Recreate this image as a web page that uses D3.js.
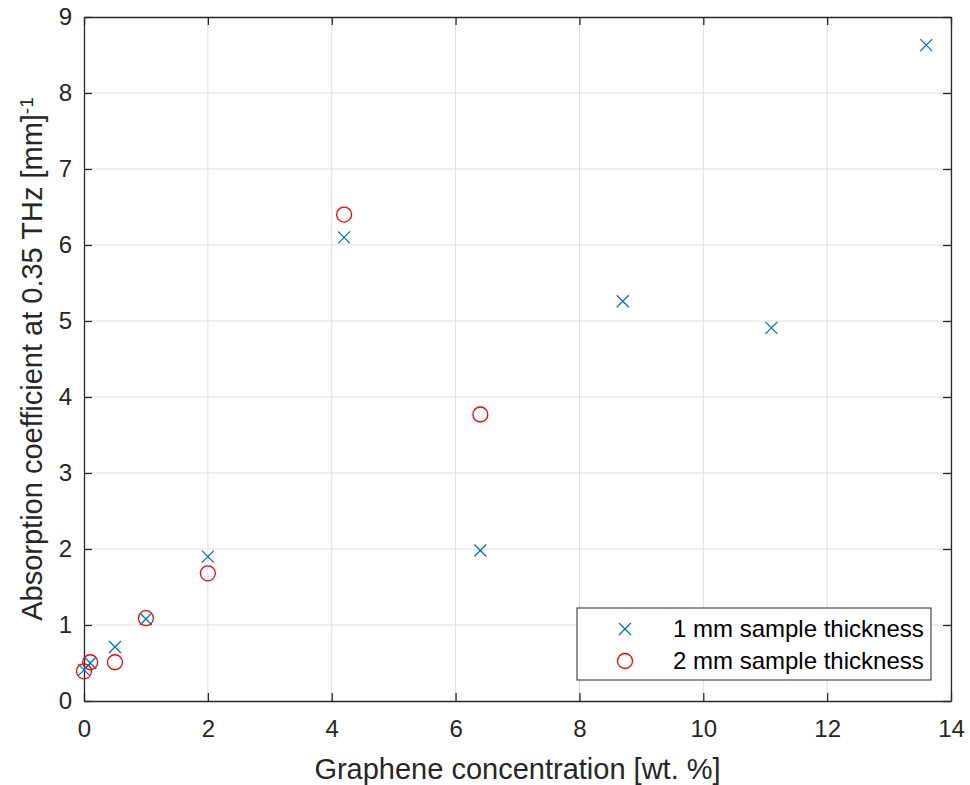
<!DOCTYPE html>
<html>
<head>
<meta charset="utf-8">
<script src="https://cdn.jsdelivr.net/npm/d3@7"></script>
<style>
  body { margin: 0; background: #fff; }
  text { font-family: "Liberation Sans", Arial, sans-serif; }
</style>
</head>
<body>
<script>
// data
var conc1 = [0, 0.1, 0.5, 1, 2, 4.2, 6.4, 8.7, 11.1, 13.6];
var abs1  = [0.41, 0.5, 0.71, 1.08, 1.9, 6.1, 1.98, 5.26, 4.91, 8.63];
var conc2 = [0, 0.1, 0.5, 1, 2, 4.2, 6.4];
var abs2  = [0.39, 0.51, 0.51, 1.09, 1.68, 6.4, 3.77];
var xTicks = [0, 2, 4, 6, 8, 10, 12, 14];
var yTicks = [0, 1, 2, 3, 4, 5, 6, 7, 8, 9];
var legendLabels = ["1 mm sample thickness", "2 mm sample thickness"];

var width = 970, height = 785;
var plotLeft = 84, plotRight = 951, plotTop = 17, plotBottom = 701;

var svg = d3.select("body").append("svg")
    .attr("width", width)
    .attr("height", height);

var x = d3.scaleLinear().domain([0, 14]).range([plotLeft, plotRight]);
var y = d3.scaleLinear().domain([0, 9]).range([plotBottom, plotTop]);

var axisColor = "#262626";

//grid
svg.append("g").selectAll("line")
    .data(xTicks.slice(1, -1)).enter().append("line")
    .attr("x1", d => x(d)).attr("x2", d => x(d))
    .attr("y1", plotTop).attr("y2", plotBottom)
    .attr("stroke", "#dfdfdf").attr("stroke-width", 1);
svg.append("g").selectAll("line")
    .data(yTicks.slice(1, -1)).enter().append("line")
    .attr("y1", d => y(d)).attr("y2", d => y(d))
    .attr("x1", plotLeft).attr("x2", plotRight)
    .attr("stroke", "#dfdfdf").attr("stroke-width", 1);

//axes (ticks inward like matlab)
var xAxis = svg.append("g")
    .attr("transform", "translate(0," + plotBottom + ")")
    .call(d3.axisBottom(x).tickValues(xTicks).tickSize(-8).tickPadding(19).tickSizeOuter(0));
var xAxisTop = svg.append("g")
    .attr("transform", "translate(0," + plotTop + ")")
    .call(d3.axisTop(x).tickValues(xTicks).tickSize(-8).tickFormat("").tickSizeOuter(0));
var yAxis = svg.append("g")
    .attr("transform", "translate(" + plotLeft + ",0)")
    .call(d3.axisLeft(y).tickValues(yTicks).tickSize(-8).tickPadding(12).tickSizeOuter(0));
var yAxisRight = svg.append("g")
    .attr("transform", "translate(" + plotRight + ",0)")
    .call(d3.axisRight(y).tickValues(yTicks).tickSize(-8).tickFormat("").tickSizeOuter(0));

[xAxis, xAxisTop, yAxis, yAxisRight].forEach(function(g){
    g.attr("font-family", null).attr("font-size", null);
    g.select(".domain").attr("stroke", axisColor).attr("stroke-width", 1.3);
    g.selectAll(".tick line").attr("stroke", axisColor).attr("stroke-width", 1.3);
    g.selectAll(".tick text").attr("fill", axisColor).style("font-size", "24px");
});

//markers
var blue = "#0072BD", red = "#FF0000";
var crossSize = 6;
function crossPath(cx, cy){
    return "M" + (cx - crossSize) + "," + (cy - crossSize) + "L" + (cx + crossSize) + "," + (cy + crossSize) +
           "M" + (cx - crossSize) + "," + (cy + crossSize) + "L" + (cx + crossSize) + "," + (cy - crossSize);
}

svg.append("g").selectAll("circle")
    .data(conc2).enter().append("circle")
    .attr("cx", d => x(d))
    .attr("cy", (d, i) => y(abs2[i]))
    .attr("r", 7.5)
    .attr("fill", "none")
    .attr("stroke", red)
    .attr("stroke-width", 1.3);

svg.append("g").selectAll("path")
    .data(conc1).enter().append("path")
    .attr("d", (d, i) => crossPath(x(d), y(abs1[i])))
    .attr("stroke", blue)
    .attr("stroke-width", 1.3)
    .attr("fill", "none");

//legend
var legend = svg.append("g");
legend.append("rect")
    .attr("x", 577).attr("y", 608)
    .attr("width", 354).attr("height", 72)
    .attr("fill", "#fff")
    .attr("stroke", axisColor).attr("stroke-width", 1);
legend.append("path")
    .attr("d", crossPath(625, 629))
    .attr("stroke", blue).attr("stroke-width", 1.3).attr("fill", "none");
legend.append("circle")
    .attr("cx", 625).attr("cy", 661).attr("r", 7.5)
    .attr("fill", "none").attr("stroke", red).attr("stroke-width", 1.3);
legend.selectAll("text")
    .data(legendLabels).enter().append("text")
    .attr("x", 673)
    .attr("y", (d, i) => 629 + i * 32)
    .attr("dy", "0.35em")
    .attr("fill", "#000")
    .style("font-size", "24px")
    .text(d => d);

//axis labels
svg.append("text")
    .attr("x", (plotLeft + plotRight) / 2)
    .attr("y", 779)
    .attr("text-anchor", "middle")
    .attr("fill", axisColor)
    .style("font-size", "29px")
    .text("Graphene concentration [wt. %]");

var yl = svg.append("text")
    .attr("transform", "translate(42," + ((plotTop + plotBottom) / 2) + ") rotate(-90)")
    .attr("text-anchor", "middle")
    .attr("fill", axisColor)
    .style("font-size", "29px");
yl.append("tspan").text("Absorption coefficient at 0.35 THz [mm]");
yl.append("tspan").attr("dy", "-0.5em").style("font-size", "19px").text("-1");
</script>
</body>
</html>
